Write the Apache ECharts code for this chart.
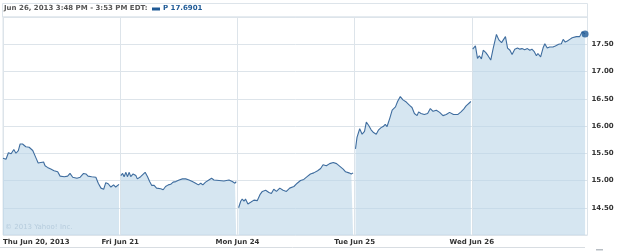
<!DOCTYPE html>
<html><head><meta charset="utf-8">
<script src="https://cdn.jsdelivr.net/npm/echarts@6/dist/echarts.min.js"></script>
<style>html,body{margin:0;padding:0;background:#fff}#c{width:625px;height:251px}</style>
</head><body><div id="c"></div>
<script>
// minutes after 9:30 open, and prices, per trading day
const dayLabels = ["Thu Jun 20, 2013", "Fri Jun 21", "Mon Jun 24", "Tue Jun 25", "Wed Jun 26"];
const thuTimes  = [0,10,18,27,36,43,51,57,65,76,87,99,110,117,126,135,140,148,159,170,182,190,204,215,223,232,246,257,268,276,283,295,309,317,326,335,342,350,359,368,375,386];
const thuPrices = [15.41,15.39,15.51,15.49,15.57,15.50,15.55,15.67,15.67,15.62,15.61,15.55,15.41,15.32,15.33,15.34,15.27,15.24,15.21,15.18,15.16,15.08,15.07,15.08,15.13,15.06,15.04,15.06,15.13,15.12,15.08,15.07,15.06,14.95,14.86,14.84,14.96,14.94,14.88,14.92,14.88,14.93];
const friTimes  = [2,8,13,19,24,30,35,43,52,57,68,83,91,98,105,113,121,127,135,143,151,160,168,176,185,196,207,218,229,240,251,260,268,275,284,295,304,312,329,345,362,373,382,386];
const friPrices = [15.09,15.13,15.07,15.15,15.07,15.15,15.07,15.12,15.09,15.03,15.07,15.15,15.07,14.98,14.91,14.91,14.86,14.83,14.85,14.83,14.89,14.92,14.93,14.97,14.98,15.01,15.03,15.03,15.01,14.98,14.95,14.92,14.95,14.92,14.97,15.01,15.04,15.01,15.00,14.99,15.01,14.98,14.95,14.98];
const monTimes  = [4,11,16,22,27,35,44,55,66,75,83,94,105,113,121,130,141,152,163,174,188,199,210,221,232,243,254,267,277,285,296,307,319,330,341,352,360,371,379,385];
const monPrices = [14.50,14.62,14.66,14.62,14.66,14.57,14.60,14.64,14.63,14.74,14.80,14.82,14.78,14.76,14.84,14.80,14.86,14.82,14.80,14.86,14.89,14.95,15.00,15.02,15.07,15.12,15.14,15.18,15.22,15.29,15.27,15.31,15.33,15.31,15.26,15.21,15.16,15.14,15.12,15.14];
const tueTimes  = [3,8,17,25,33,39,47,55,63,72,80,88,95,102,108,117,125,130,136,143,152,161,172,183,191,199,208,213,221,232,243,252,261,272,283,294,305,316,329,343,354,363,371,376,387];
const tuePrices = [15.58,15.79,15.95,15.85,15.90,16.07,16.01,15.93,15.88,15.85,15.93,15.97,15.99,16.03,15.99,16.14,16.29,16.26,16.35,16.45,16.54,16.48,16.44,16.38,16.34,16.23,16.19,16.26,16.23,16.21,16.23,16.32,16.27,16.29,16.25,16.19,16.21,16.25,16.21,16.21,16.26,16.31,16.37,16.35,16.45];
const wedTimes  = [3,12,19,25,32,38,46,54,63,71,82,90,99,104,112,119,127,134,143,152,160,167,176,185,193,200,207,215,220,229,237,243,251,259,270,278,289,298,304,311,318,326,334,348,359,367,377];
const wedPrices = [17.41,17.47,17.24,17.29,17.23,17.39,17.35,17.29,17.21,17.42,17.68,17.58,17.53,17.54,17.64,17.43,17.39,17.31,17.41,17.43,17.41,17.42,17.40,17.42,17.39,17.41,17.37,17.29,17.33,17.27,17.43,17.51,17.43,17.45,17.45,17.47,17.50,17.51,17.59,17.54,17.56,17.59,17.62,17.64,17.64,17.73,17.6901];
const headerText = "Jun 26, 2013 3:48 PM - 3:53 PM EDT:";
const headerPrice = "P 17.6901";
const copyright = "\u00A9 2013 Yahoo! Inc.";

const days = [[thuTimes,thuPrices],[friTimes,friPrices],[monTimes,monPrices],[tueTimes,tuePrices],[wedTimes,wedPrices]];
const DAY = 390;
const lineData = [];
days.forEach(([t,p],d)=>{
  t.forEach((m,i)=>lineData.push([d*DAY+m, p[i]]));
  if (d < days.length-1) lineData.push([d*DAY+389, '-']);
});
const last = lineData[lineData.length-1];

const FONT = '"DejaVu Sans", Verdana, sans-serif';
const gridColor = '#dde4ea';
const chart = echarts.init(document.getElementById('c'), null, {renderer:'canvas'});
chart.setOption({
  animation:false,
  grid:{left:2, right:37.5, top:17, bottom:16, show:true, borderColor:gridColor, borderWidth:1, backgroundColor:'transparent'},
  xAxis:{
    type:'value', min:0, max:1945, interval:DAY,
    axisLine:{show:false}, axisTick:{show:false},
    splitLine:{show:true, lineStyle:{color:gridColor, width:1}},
    axisLabel:{
      margin:4, color:'#333', fontFamily:FONT, fontWeight:'bold', fontSize:7,
      showMaxLabel:false, alignMinLabel:'left',
      formatter:v=>{const i=Math.round(v/DAY); return (Math.abs(v-i*DAY)<1 && dayLabels[i])?dayLabels[i]:'';}
    }
  },
  yAxis:{
    type:'value', position:'right', min:14, max:18, interval:0.5,
    axisLine:{show:false},
    axisTick:{show:true, length:3, lineStyle:{color:gridColor}},
    splitLine:{show:true, lineStyle:{color:gridColor, width:1}},
    axisLabel:{margin:4, color:'#333', fontFamily:FONT, fontWeight:'bold', fontSize:7,
      showMinLabel:false, showMaxLabel:false, formatter:v=>v.toFixed(2)}
  },
  series:[
    {type:'line', data:lineData, showSymbol:false, symbol:'none', connectNulls:false,
     lineStyle:{color:'#3f6d9f', width:1.1},
     areaStyle:{color:'rgb(187,213,232)', opacity:0.6}},
    {type:'scatter', data:[last], symbolSize:7, itemStyle:{color:'#1f5a96'}, z:5}
  ],
  graphic:[
    {type:'rect', shape:{x:2.5,y:3.5,width:585,height:13.5}, style:{fill:'#fff', stroke:gridColor, lineWidth:1}, z:-1},
    {type:'text', left:4, top:5, style:{text:headerText, font:'bold 7px '+FONT, fill:'#555'}},
    {type:'rect', shape:{x:152,y:7.5,width:8,height:3}, style:{fill:'#1f5a96'}},
    {type:'text', left:163, top:5, style:{text:headerPrice, font:'bold 7px '+FONT, fill:'#1f5a96'}},
    {type:'text', left:5, top:224, style:{text:copyright, font:'7px '+FONT, fill:'#aebdcc'}},
    {type:'line', shape:{x1:0,y1:247.5,x2:585,y2:247.5}, style:{stroke:'#d8dde2', lineWidth:1}},
    {type:'rect', shape:{x:596,y:249,width:7,height:1.5}, style:{fill:'#b8bec4'}}
  ]
});
</script></body></html>
